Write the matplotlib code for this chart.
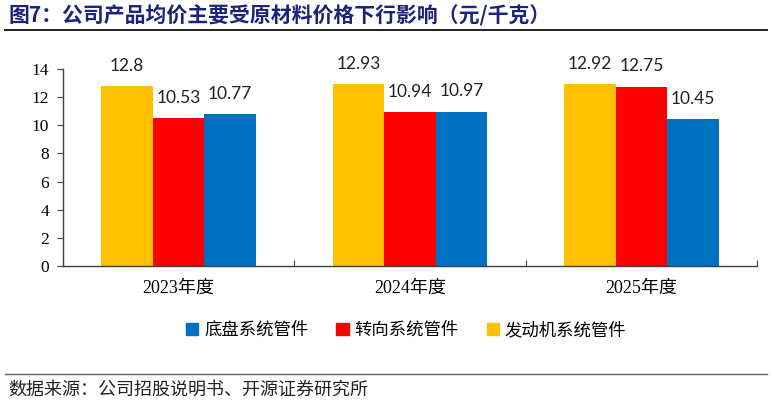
import matplotlib
matplotlib.use('Agg')
import matplotlib.pyplot as plt
from matplotlib.patches import Patch
import numpy as np

# data
years = ['2023年度', '2024年度', '2025年度']
engine = [12.8, 12.93, 12.92]     # 发动机系统管件
steering = [10.53, 10.94, 12.75]  # 转向系统管件
chassis = [10.77, 10.97, 10.45]   # 底盘系统管件
series_names = ['发动机系统管件', '转向系统管件', '底盘系统管件']
y_ticks = [0, 2, 4, 6, 8, 10, 12, 14]

colors = ['#FFC000', '#FF0000', '#0070C0']
serif = ['Liberation Serif', 'Noto Sans CJK SC']
cjk = ['Noto Sans CJK SC', 'DejaVu Sans']

fig = plt.figure(figsize=(7.74, 4.04), dpi=100)
ax = fig.add_axes([63 / 774, 1 - 266 / 404, (757 - 63) / 774, (266 - 69) / 404])

ind = np.arange(len(years))
width = 0.223
for k, vals in enumerate([engine, steering, chassis]):
    pos = ind + (k - 1) * width
    bars = ax.bar(pos, vals, width, color=colors[k], label=series_names[k])
    for b, v in zip(bars, vals):
        ax.annotate('{:g}'.format(v), (b.get_x() + b.get_width() / 2, v),
                    xytext=(0, 14.5), textcoords='offset points',
                    ha='center', va='center', fontsize=12.5,
                    family=['Lato', 'DejaVu Sans'], color='#222222')

ax.set_ylim(0, 14)
ax.set_xlim(-0.5, 2.5)
ax.set_yticks(y_ticks)
ax.set_yticklabels([str(t) for t in y_ticks], family=serif, fontsize=12.5)
ax.tick_params(axis='y', direction='out', length=4, color='#404040', pad=6)

ax.set_xticks([-0.5, 0.5, 1.5, 2.5])
ax.set_xticklabels([])
ax.tick_params(axis='x', which='major', direction='in', length=4, color='#404040')
ax.set_xticks(ind, minor=True)
ax.set_xticklabels(years, minor=True, family=serif, fontsize=13)
ax.tick_params(axis='x', which='minor', length=0, pad=10)

for s in ['top', 'right']:
    ax.spines[s].set_visible(False)
for s in ['left', 'bottom']:
    ax.spines[s].set_color('#404040')
    ax.spines[s].set_linewidth(1.0)

# legend: reversed order, square markers
handles = [Patch(color=colors[k], label=series_names[k]) for k in [2, 1, 0]]
fig.legend(handles=handles, loc='center', bbox_to_anchor=(0.525, 1 - 330 / 404),
           ncol=3, frameon=False, handlelength=0.7, handleheight=0.7,
           handletextpad=0.35, columnspacing=1.6,
           prop={'family': cjk, 'size': 12.5})

# title and source, with rules
fig.text(8 / 774, 1 - 16 / 404, '图7：公司产品均价主要受原材料价格下行影响（元/千克）',
         family=cjk, fontsize=15, fontweight='bold', color='#1B237A',
         ha='left', va='center')
fig.add_artist(plt.Line2D([5 / 774, 767 / 774], [1 - 30 / 404, 1 - 30 / 404],
                          color='#202020', linewidth=1.4))
fig.add_artist(plt.Line2D([5 / 774, 767 / 774], [1 - 374 / 404, 1 - 374 / 404],
                          color='#606060', linewidth=1.0))
fig.text(8 / 774, 1 - 390 / 404, '数据来源：公司招股说明书、开源证券研究所',
         family=cjk, fontsize=13, color='#222222', ha='left', va='center')

fig.savefig('out.png', dpi=100)
